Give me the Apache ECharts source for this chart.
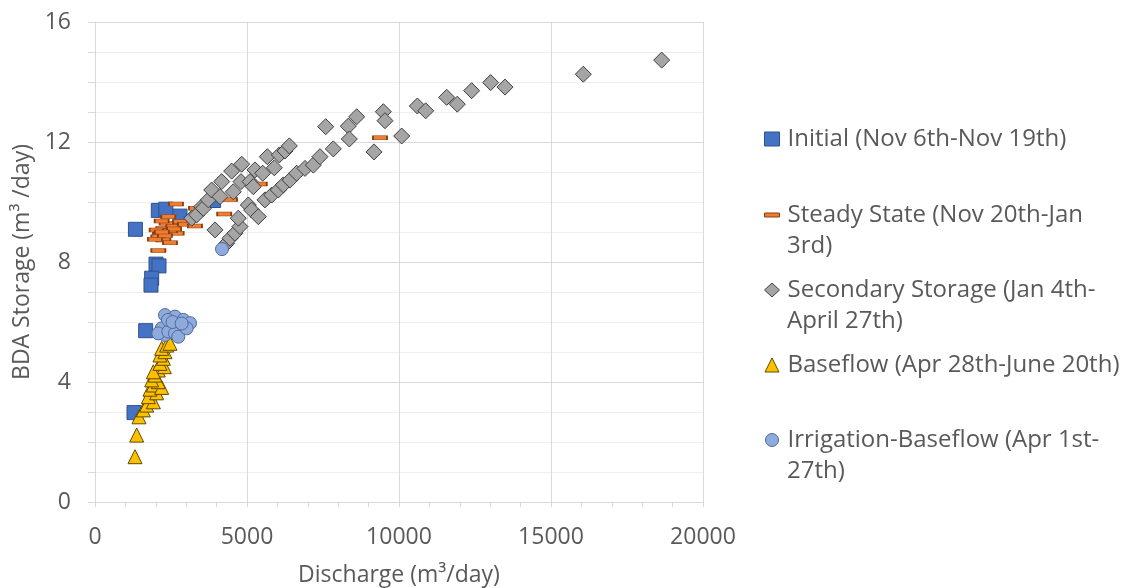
<!DOCTYPE html>
<html>
<head>
<meta charset="utf-8">
<script src="https://cdn.jsdelivr.net/npm/echarts@6/dist/echarts.min.js"></script>
<style>
  html, body { margin: 0; padding: 0; background: #ffffff; }
  #chart { width: 1131px; height: 588px; }
</style>
</head>
<body>
<div id="chart"></div>
<script>
// ---- data ----
const xTitle = 'Discharge (m\u00b3/day)';
const yTitle = 'BDA Storage (m\u00b3 /day)';

const seriesNames = [
  'Initial (Nov 6th-Nov 19th)',
  'Steady State (Nov 20th-Jan',
  'Secondary Storage (Jan 4th-',
  'Baseflow (Apr 28th-June 20th)',
  'Irrigation-Baseflow (Apr 1st-'
];
const nameContinuations = ['', '3rd)', 'April 27th)', '', '27th)'];

const initialData = [
  [1330, 9.09], [2083, 9.72], [2330, 9.76], [2796, 9.53], [3900, 10.05],
  [2007, 7.93], [2105, 7.87], [1864, 7.46], [1842, 7.23], [1667, 5.71], [1283, 2.98]
];

const steadyData = [
  [2664, 9.93], [3322, 9.79], [4250, 9.6], [2412, 9.51], [2357, 9.29], [2906, 9.29],
  [2248, 9.12], [2686, 8.96], [2138, 8.96], [2083, 8.84], [2248, 8.73], [2467, 8.64],
  [2083, 8.38], [2029, 9.07], [2467, 9.04], [1974, 8.76], [2193, 9.37], [2576, 9.18],
  [2796, 9.34], [2960, 9.26], [3289, 9.2], [2300, 8.88], [2600, 9.1], [2200, 9.0],
  [4441, 10.08], [5420, 10.6], [9375, 12.14]
];

const secondaryData = [
  [3180, 9.46], [3344, 9.57], [3509, 9.84], [3563, 9.79], [3728, 10.07], [3838, 10.4],
  [4112, 10.18], [4167, 10.68], [4496, 11.03], [4550, 10.34], [4803, 10.68], [4825, 11.26],
  [5099, 10.68], [5208, 10.51], [5263, 11.07], [5516, 10.96], [5668, 11.51], [5898, 11.14],
  [6064, 11.57], [6250, 11.7], [6393, 11.87],
  [3947, 9.07], [4331, 8.62], [4441, 8.79], [4605, 8.96], [4770, 9.18], [4715, 9.46],
  [5044, 9.9], [5154, 9.73], [5373, 9.51], [5592, 10.07], [5811, 10.23], [6030, 10.4],
  [6195, 10.57], [6414, 10.73], [6634, 10.96], [6908, 11.12], [7182, 11.23], [7401, 11.51],
  [7589, 12.51], [7839, 11.77], [8333, 12.53], [8366, 12.1], [8608, 12.84], [9178, 11.67],
  [9485, 13.01], [9539, 12.71], [10088, 12.2], [10603, 13.2], [10877, 13.04], [11568, 13.49],
  [11918, 13.26], [12390, 13.71], [13016, 13.98], [13487, 13.83], [16063, 14.26], [18640, 14.73]
];

const baseflowData = [
  [1316, 1.51], [1371, 2.23], [1447, 2.84], [1590, 3.07], [1700, 3.23], [1919, 3.34],
  [1754, 3.51], [2029, 3.64], [1809, 3.76], [1919, 3.9], [2193, 3.82], [2083, 4.01],
  [1864, 4.07], [1974, 4.23], [2083, 4.4], [2281, 4.51], [1919, 4.34], [2138, 4.62],
  [2248, 4.79], [2138, 4.9], [2303, 5.01], [2193, 5.12], [2357, 5.23], [2467, 5.29]
];

const irrigationData = [
  [2303, 6.23], [2632, 6.18], [2906, 6.07], [3125, 5.96], [2796, 5.84], [2522, 5.9],
  [2193, 5.79], [2303, 5.57], [2083, 5.62], [2412, 5.68], [2632, 5.62], [2741, 5.51],
  [3015, 5.79], [2401, 6.07], [2550, 6.0], [2850, 5.95], [4178, 8.43]
];

// ---- chart ----
const FONT = 'Open Sans';
const TXT = '#595959';
const chart = echarts.init(document.getElementById('chart'), null, { renderer: 'canvas' });

const styles = [
  { symbol: 'rect', size: 14, color: '#4472C4', border: '#2F528F', iw: 15, ih: 14 },
  { symbol: 'rect', size: [14, 4], color: '#ED7D31', border: '#8B3F0F', iw: 15, ih: 4 },
  { symbol: 'diamond', size: 16, color: '#A5A5A5', border: '#3F3F3F', iw: 15, ih: 14 },
  { symbol: 'triangle', size: 14, color: '#FFC000', border: '#5F4B00', iw: 14, ih: 14 },
  { symbol: 'circle', size: 13, color: '#8FAADC', border: '#4F6A9A', iw: 13, ih: 13 }
];
const datasets = [initialData, steadyData, secondaryData, baseflowData, irrigationData];
const legendCenters = [136, 212, 287, 362, 437];

const series = datasets.map((d, i) => ({
  name: seriesNames[i],
  type: 'scatter',
  data: d,
  symbol: styles[i].symbol,
  symbolSize: styles[i].size,
  itemStyle: { color: styles[i].color, borderColor: styles[i].border, borderWidth: 1, opacity: 1 },
  emphasis: { disabled: true },
  z: 2 + i
}));

const legends = seriesNames.map((n, i) => ({
  data: [n],
  orient: 'vertical',
  left: 759 + (15 - styles[i].iw) / 2,
  top: legendCenters[i] - 14,
  itemWidth: styles[i].iw,
  itemHeight: styles[i].ih,
  selectedMode: false,
  textStyle: { fontFamily: FONT, fontSize: 24, color: TXT, padding: [0, 0, 0, 3 + (15 - styles[i].iw) / 2] },
  itemStyle: { borderColor: styles[i].border, borderWidth: 1 }
}));

const graphics = [];
nameContinuations.forEach((t, i) => {
  if (!t) return;
  graphics.push({
    type: 'text', left: 787, top: legendCenters[i] + 33 - 11,
    style: { text: t, fontFamily: FONT, fontSize: 24, fill: TXT }
  });
});

chart.setOption({
  animation: false,
  backgroundColor: '#ffffff',
  grid: { left: 95, right: 428, top: 22, bottom: 86, containLabel: false, outerBoundsMode: 'none' },
  xAxis: {
    type: 'value', min: 0, max: 20000, interval: 5000,
    name: xTitle, nameLocation: 'middle', nameGap: 62,
    nameTextStyle: { fontFamily: FONT, fontSize: 23, color: TXT },
    axisLine: { show: true, lineStyle: { color: '#D9D9D9', width: 1 } },
    axisTick: { show: true, length: 5, lineStyle: { color: '#D9D9D9' } },
    minorTick: { show: true, splitNumber: 5, length: 5, lineStyle: { color: '#D9D9D9' } },
    axisLabel: { fontFamily: FONT, fontSize: 23, color: TXT, margin: 24, formatter: v => String(v) },
    splitLine: { show: true, lineStyle: { color: '#D9D9D9', width: 1 } },
    minorSplitLine: { show: false }
  },
  yAxis: {
    type: 'value', min: 0, max: 16, interval: 4,
    name: yTitle, nameLocation: 'middle', nameGap: 60, nameRotate: 90,
    nameTextStyle: { fontFamily: FONT, fontSize: 23, color: TXT },
    axisLine: { show: true, lineStyle: { color: '#D9D9D9', width: 1 } },
    axisTick: { show: true, length: 7, lineStyle: { color: '#D9D9D9' } },
    minorTick: { show: true, splitNumber: 4, length: 7, lineStyle: { color: '#D9D9D9' } },
    axisLabel: { fontFamily: FONT, fontSize: 23, color: TXT, margin: 24, formatter: v => String(v) },
    splitLine: { show: true, lineStyle: { color: '#D9D9D9', width: 1 } },
    minorSplitLine: { show: true, lineStyle: { color: '#EEEEEE', width: 1 } }
  },
  legend: legends,
  graphic: graphics,
  series: series
});
</script>
</body>
</html>
